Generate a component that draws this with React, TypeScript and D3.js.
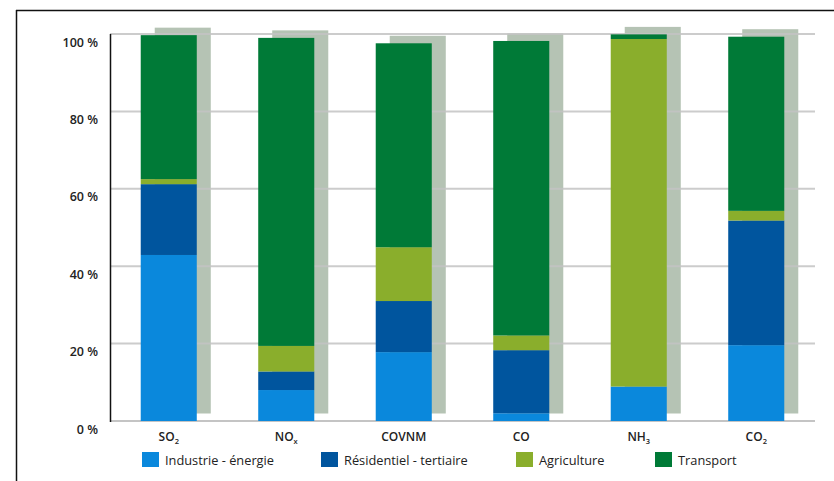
import React, { useRef, useEffect } from 'react'
import * as d3 from 'd3'

// polluants (libellé + indice)
const pollutants = ['SO2', 'NOx', 'COVNM', 'CO', 'NH3', 'CO2']
const labelMain = ['SO', 'NO', 'COVNM', 'CO', 'NH', 'CO']
const labelSub = ['2', 'x', '', '', '3', '2']

const sectors = ['Industrie - énergie', 'Résidentiel - tertiaire', 'Agriculture', 'Transport']
const colors = ['#0a88dc', '#00559e', '#8aae2c', '#007a37']

// parts en % par secteur
const industrie = [42.9, 8.0, 17.8, 2.0, 8.9, 19.6]
const residentiel = [18.3, 4.8, 13.2, 16.3, 0, 32.2]
const agriculture = [1.3, 6.6, 13.9, 3.8, 89.8, 2.5]
const transport = [37.2, 79.6, 52.7, 76.1, 1.2, 45.0]

const yTicks = [0, 20, 40, 60, 80, 100]

export default function App() {
    const svgRef = useRef<SVGSVGElement>(null)

    useEffect(() => {
        const width = 834
        const height = 481
        const svg = d3.select(svgRef.current).attr('width', width).attr('height', height)
        svg.selectAll('*').remove()

        const font = '"Open Sans", "DejaVu Sans", sans-serif'

        const x = d3.scaleBand<string>().domain(pollutants).range([110, 815]).paddingInner(0.523).paddingOuter(0.2615)
        const y = d3.scaleLinear().domain([0, 100]).range([421, 34])

        const rows = pollutants.map((p, i) => ({
            key: p,
            [sectors[0]]: industrie[i],
            [sectors[1]]: residentiel[i],
            [sectors[2]]: agriculture[i],
            [sectors[3]]: transport[i],
        }))
        const stack = d3.stack<any>().keys(sectors)(rows)
        const totals = pollutants.map((_, i) => industrie[i] + residentiel[i] + agriculture[i] + transport[i])

        // cadre
        svg.append('line').attr('x1', 16).attr('x2', width).attr('y1', 10.5).attr('y2', 10.5).attr('stroke', '#111').attr('stroke-width', 1.5)
        svg.append('line').attr('x1', 16.5).attr('x2', 16.5).attr('y1', 10).attr('y2', height).attr('stroke', '#111').attr('stroke-width', 1.5)

        // ombres
        const dx = 14
        const dy = -7.5
        svg.append('g')
            .selectAll('rect')
            .data(pollutants)
            .enter()
            .append('rect')
            .attr('x', (d) => x(d)! + dx)
            .attr('y', (d, i) => y(totals[i]) + dy)
            .attr('width', x.bandwidth())
            .attr('height', (d, i) => y(0) - y(totals[i]))
            .attr('fill', '#b5c3b4')

        // grille
        svg.append('g')
            .selectAll('line')
            .data(yTicks)
            .enter()
            .append('line')
            .attr('x1', 110)
            .attr('x2', 815)
            .attr('y1', (d) => y(d))
            .attr('y2', (d) => y(d))
            .attr('stroke', '#c4c4c4')
            .attr('stroke-width', 2)
            .attr('opacity', (d) => (d === 0 ? 1 : 0.85))

        // barres empilées
        svg.append('g')
            .selectAll('g')
            .data(stack)
            .enter()
            .append('g')
            .attr('fill', (d, i) => colors[i])
            .selectAll('rect')
            .data((d) => d)
            .enter()
            .append('rect')
            .attr('x', (d: any) => x(d.data.key)!)
            .attr('y', (d) => y(d[1]))
            .attr('width', x.bandwidth())
            .attr('height', (d) => Math.max(0, y(d[0]) - y(d[1])))

        // axe vertical
        svg.append('line').attr('x1', 110.5).attr('x2', 110.5).attr('y1', y(100)).attr('y2', y(0) + 1).attr('stroke', '#111').attr('stroke-width', 1.5)

        // étiquettes Y
        svg.append('g')
            .selectAll('text')
            .data(yTicks)
            .enter()
            .append('text')
            .attr('x', 98)
            .attr('y', (d) => y(d) + 12.5)
            .attr('text-anchor', 'end')
            .style('font-family', font)
            .style('font-size', '12.5px')
            .style('font-weight', 600)
            .attr('fill', '#222')
            .text((d) => `${d} %`)

        // étiquettes X
        const xl = svg.append('g')
            .selectAll('text')
            .data(pollutants)
            .enter()
            .append('text')
            .attr('x', (d) => x(d)! + x.bandwidth() / 2)
            .attr('y', 441)
            .attr('text-anchor', 'middle')
            .style('font-family', font)
            .style('font-size', '12px')
            .style('font-weight', 600)
            .attr('fill', '#222')
        xl.append('tspan').text((d, i) => labelMain[i])
        xl.append('tspan')
            .attr('dy', 2.5)
            .style('font-size', '7.5px')
            .text((d, i) => labelSub[i])

        // légende
        const legendX = [142, 321, 516, 655]
        const lg = svg.append('g')
            .selectAll('g')
            .data(sectors)
            .enter()
            .append('g')
            .attr('transform', (d, i) => `translate(${legendX[i]},452)`)
        lg.append('rect').attr('width', 17).attr('height', 15).attr('fill', (d, i) => colors[i])
        lg.append('text')
            .attr('x', 23)
            .attr('y', 12.5)
            .style('font-family', font)
            .style('font-size', '12.8px')
            .attr('fill', '#222')
            .text((d) => d)
    }, [])

    return (
        <div style={{ position: 'absolute', left: 0, top: 0, background: '#fff' }}>
            <svg ref={svgRef} style={{ display: 'block' }} />
        </div>
    )
}
